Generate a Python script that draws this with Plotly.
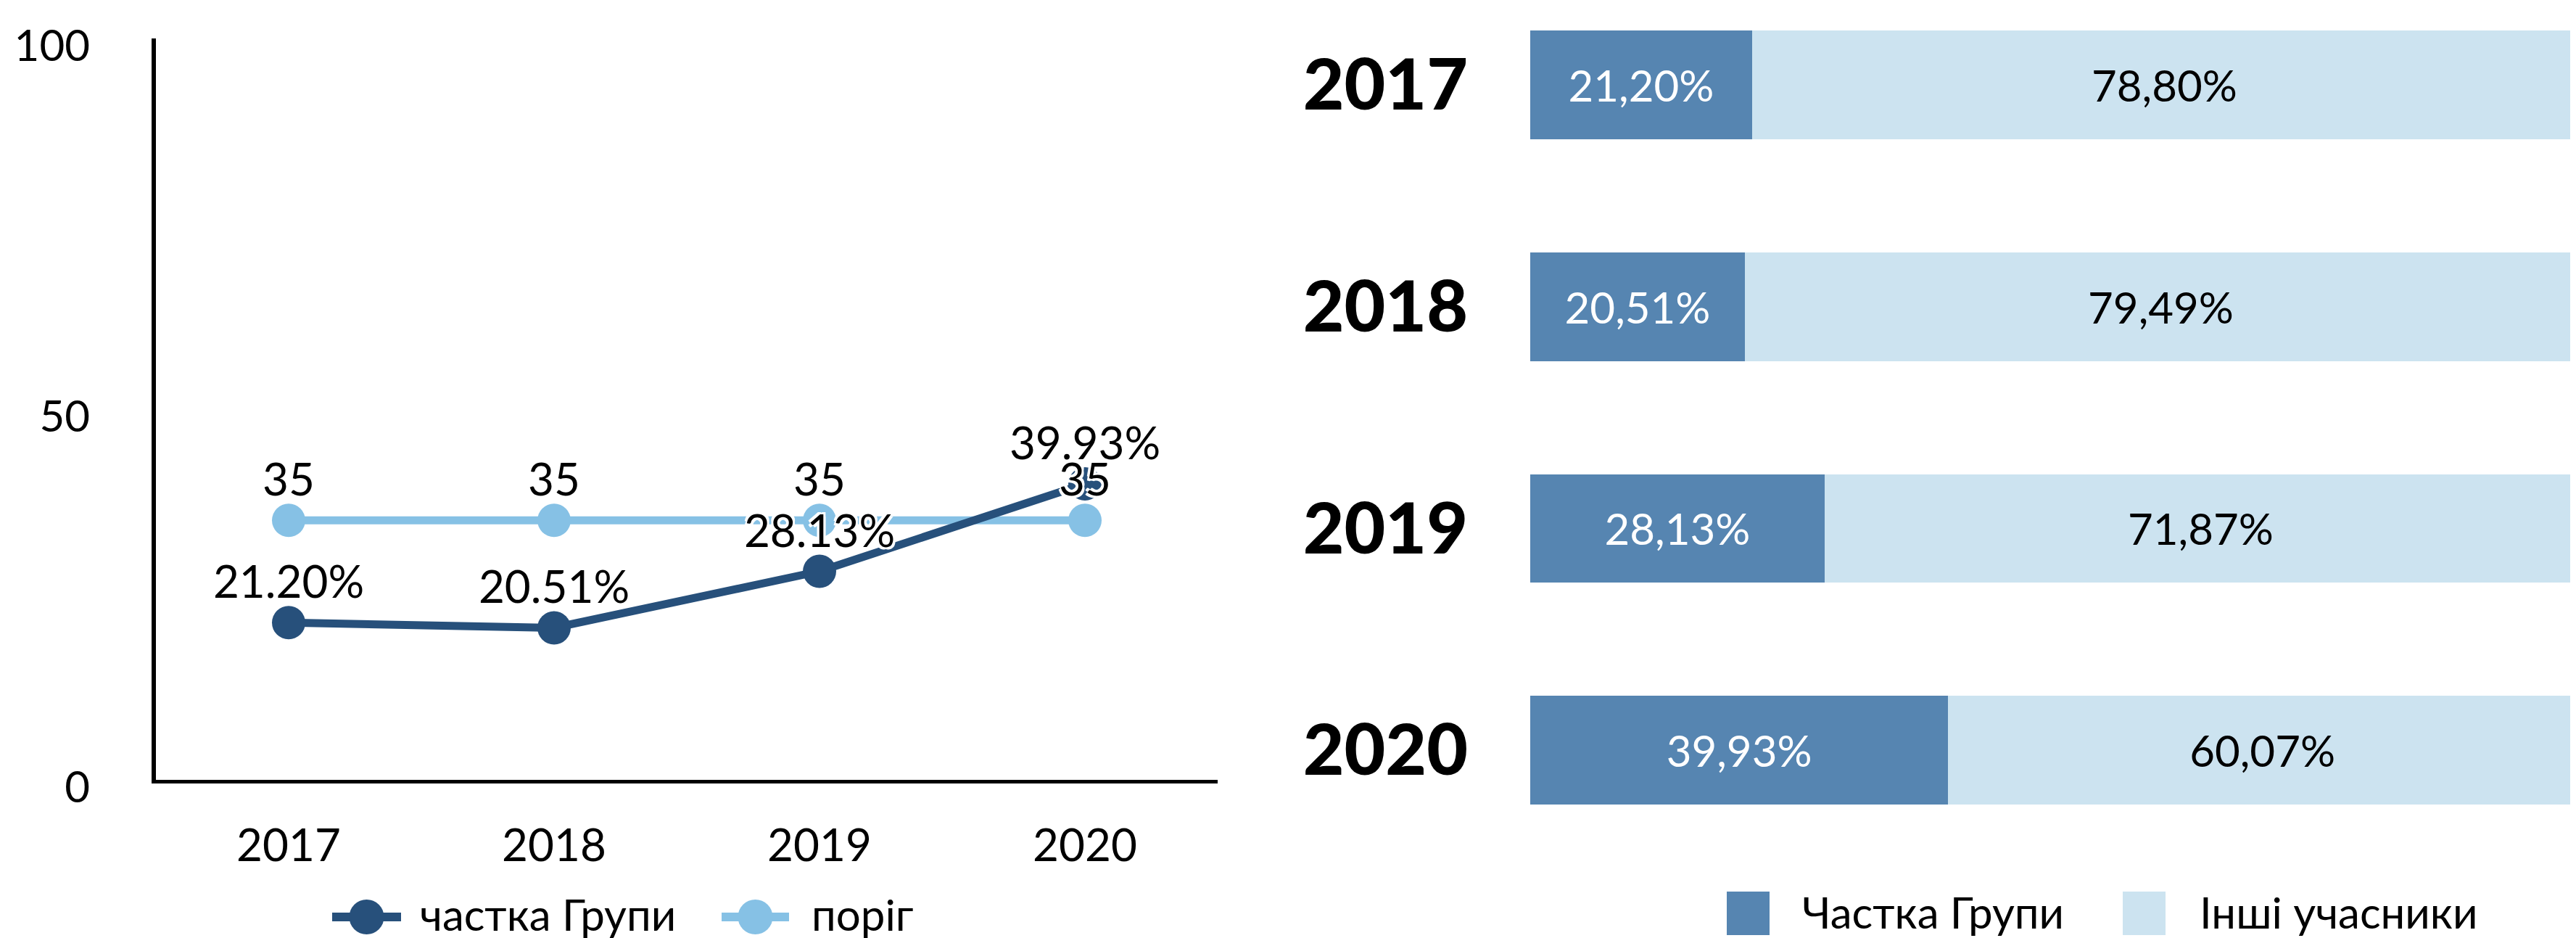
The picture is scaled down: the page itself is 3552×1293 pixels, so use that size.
import plotly.graph_objects as go

# дані
years = ["2017", "2018", "2019", "2020"]
group_share = [21.20, 20.51, 28.13, 39.93]   # частка Групи, %
threshold = [35, 35, 35, 35]                 # поріг
others_share = [78.80, 79.49, 71.87, 60.07]  # інші учасники, %

y_ticks = [0, 50, 100]

W, H = 3552, 1293
OFF = 8  # відступ body у сторінці
FONT = "Lato"
DARK_LINE = "#27507b"
LIGHT_LINE = "#86c1e5"
DARK_BAR = "#5685b1"
LIGHT_BAR = "#cce3f0"
HALO = "-3px -3px 0 #fff, 3px -3px 0 #fff, -3px 3px 0 #fff, 3px 3px 0 #fff"


def px(x):
    return (x - OFF) / W


def py(y):
    return 1 - (y - OFF) / H


fig = go.Figure()

# ліва частина: лінії
fig.add_trace(go.Scatter(
    x=years, y=threshold, name="поріг",
    mode="lines+markers",
    line=dict(color=LIGHT_LINE, width=11),
    marker=dict(color=LIGHT_LINE, size=46),
    cliponaxis=False, showlegend=False,
    xaxis="x", yaxis="y",
))
fig.add_trace(go.Scatter(
    x=years, y=group_share, name="частка Групи",
    mode="lines+markers",
    line=dict(color=DARK_LINE, width=11),
    marker=dict(color=DARK_LINE, size=46),
    cliponaxis=False, showlegend=False,
    xaxis="x", yaxis="y",
))
# підписи значень окремо (менший невидимий маркер = менший відступ тексту)
for vals, labels in [(threshold, [str(v) for v in threshold]),
                     (group_share, [f"{v:.2f}%" for v in group_share])]:
    fig.add_trace(go.Scatter(
        x=years, y=vals, mode="markers+text",
        marker=dict(size=28, opacity=0),
        text=labels, textposition="top center",
        textfont=dict(family=FONT, size=62, color="black", shadow=HALO),
        cliponaxis=False, showlegend=False, hoverinfo="skip",
        xaxis="x", yaxis="y",
    ))

# права частина: складені смуги
fig.add_trace(go.Bar(
    y=years, x=group_share, orientation="h", name="Частка Групи",
    marker=dict(color=DARK_BAR, line=dict(width=0)),
    width=0.49,
    text=[f"{v:.2f}".replace(".", ",") + "%" for v in group_share],
    textposition="inside", insidetextanchor="middle", textangle=0,
    textfont=dict(family=FONT, size=60, color="white"),
    showlegend=False, xaxis="x2", yaxis="y2",
))
fig.add_trace(go.Bar(
    y=years, x=others_share, orientation="h", name="Інші учасники",
    marker=dict(color=LIGHT_BAR, line=dict(width=0)),
    width=0.49,
    text=[f"{v:.2f}".replace(".", ",") + "%" for v in others_share],
    textposition="inside", insidetextanchor="middle", textangle=0,
    textfont=dict(family=FONT, size=60, color="black"),
    showlegend=False, xaxis="x2", yaxis="y2",
))

# легенди (саморобні, щоб значки були великі)
shapes = []
annotations = []

left_items = [("частка Групи", DARK_LINE, 458, 553, 577),
              ("поріг", LIGHT_LINE, 995, 1088, 1117)]
ly = 1264
for label, col, x0, x1, tx in left_items:
    cx = (x0 + x1) / 2
    shapes.append(dict(type="line", xref="paper", yref="paper",
                       x0=px(x0), x1=px(x1), y0=py(ly), y1=py(ly),
                       line=dict(color=col, width=12)))
    shapes.append(dict(type="circle", xref="paper", yref="paper",
                       x0=px(cx - 24), x1=px(cx + 24), y0=py(ly + 24), y1=py(ly - 24),
                       fillcolor=col, line=dict(width=0)))
    annotations.append(dict(text=label, xref="paper", yref="paper",
                            x=px(tx), y=py(ly - 4), xanchor="left", yanchor="middle",
                            showarrow=False, font=dict(family=FONT, size=60, color="black")))

right_items = [("Частка Групи", DARK_BAR, 2381, 2483),
               ("Інші учасники", LIGHT_BAR, 2927, 3031)]
ry = 1259
for label, col, x0, tx in right_items:
    shapes.append(dict(type="rect", xref="paper", yref="paper",
                       x0=px(x0), x1=px(x0 + 59), y0=py(ry + 30), y1=py(ry - 30),
                       fillcolor=col, line=dict(width=0)))
    annotations.append(dict(text=label, xref="paper", yref="paper",
                            x=px(tx), y=py(ry - 2), xanchor="left", yanchor="middle",
                            showarrow=False, font=dict(family=FONT, size=60, color="black")))

fig.update_layout(
    width=W, height=H,
    margin=dict(l=0, r=0, t=0, b=0, autoexpand=False),
    paper_bgcolor="white", plot_bgcolor="white",
    font=dict(family=FONT, size=60, color="black"),
    barmode="stack",
    showlegend=False,
    xaxis=dict(
        domain=[px(215), px(1679)], type="category", range=[-0.5, 3.5],
        showline=True, linecolor="black", linewidth=5, showgrid=False,
        zeroline=False, ticks="", ticklabelstandoff=33, automargin=False,
        tickfont=dict(family=FONT, size=62, color="black"),
    ),
    yaxis=dict(
        domain=[py(1075), py(53)], range=[0, 100], tickvals=y_ticks,
        showline=True, linecolor="black", linewidth=6, showgrid=False,
        zeroline=False, ticks="", ticklabelstandoff=73, ticklabelshift=10,
        automargin=False,
        tickfont=dict(family=FONT, size=60, color="black"),
    ),
    xaxis2=dict(
        domain=[px(2110), px(3553)], range=[0, 100], visible=False, anchor="y2",
        automargin=False,
    ),
    yaxis2=dict(
        domain=[0, 1], type="category", range=[3.873, -0.357], anchor="x2",
        showline=False, showgrid=False, zeroline=False, ticks="",
        ticklabelstandoff=85, automargin=False,
        tickfont=dict(family=FONT, size=98, color="black", weight=900),
    ),
    shapes=shapes,
    annotations=annotations,
)

fig.write_html("out.html")
